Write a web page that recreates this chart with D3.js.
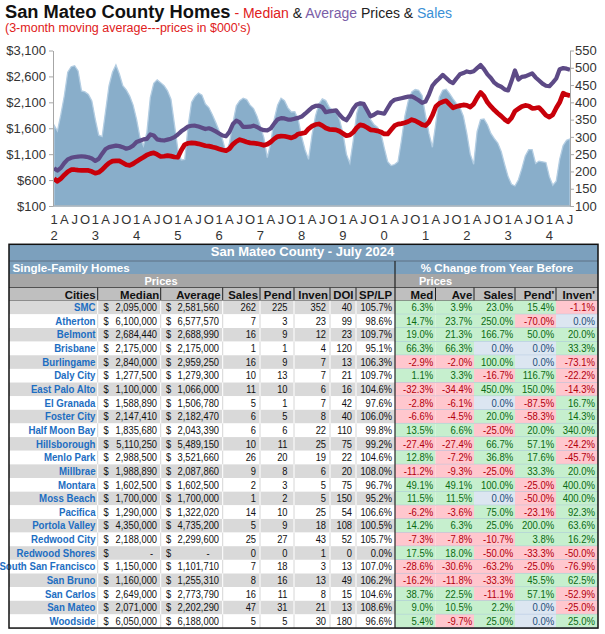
<!DOCTYPE html>
<html>
<head>
<meta charset="utf-8">
<script src="https://d3js.org/d3.v7.min.js"></script>
<style>
  body { margin: 0; background: #fff; }
  svg text { font-family: "Liberation Sans", Arial, sans-serif; }
</style>
</head>
<body>
<svg id="chart" width="605" height="634"></svg>
<script>
// ---- chart data: monthly, Jan 2012 .. Jul 2024 (3-month moving averages) ----
var salesData = [
  334, 317, 365, 419, 487, 503, 506, 491, 433, 430, 423, 404,
  351, 305, 301, 375, 448, 487, 508, 482, 448, 436, 418, 392,
  351, 298, 274, 313, 414, 455, 465, 457, 448, 433, 409, 337,
  264, 233, 235, 332, 400, 417, 427, 421, 395, 385, 365, 342,
  318, 292, 255, 282, 340, 390, 405, 412, 408, 392, 382, 360,
  330, 298, 240, 282, 350, 392, 412, 405, 384, 372, 373, 350,
  300, 262, 235, 305, 360, 395, 410, 405, 386, 377, 374, 350,
  310, 250, 224, 290, 368, 402, 398, 380, 350, 336, 328, 312,
  268, 228, 217, 220, 228, 290, 360, 405, 430, 437, 435, 420,
  362, 310, 270, 340, 415, 435, 438, 425, 410, 396, 385, 360,
  310, 250, 221, 315, 350, 352, 335, 310, 295, 282, 258, 220,
  185, 163, 158, 176, 208, 245, 263, 263, 223, 230, 228, 226,
  185, 160, 172, 235, 275, 290, 294
];
var medianData = [
  626, 578, 630, 700, 760, 800, 800, 792, 788, 786, 786, 765,
  732, 750, 800, 870, 930, 965, 972, 970, 935, 895, 885, 915,
  960, 1000, 1040, 1085, 1110, 1126, 1094, 1055, 1060, 1072, 1062, 1045,
  1040, 1175, 1285, 1310, 1318, 1312, 1299, 1280, 1262, 1255, 1240, 1222,
  1200, 1180, 1165, 1205, 1290, 1345, 1380, 1360, 1335, 1318, 1312, 1305,
  1292, 1270, 1290, 1335, 1395, 1440, 1448, 1446, 1430, 1415, 1440, 1490,
  1500, 1512, 1590, 1640, 1672, 1683, 1650, 1605, 1580, 1575, 1570, 1542,
  1500, 1455, 1470, 1523, 1610, 1665, 1650, 1615, 1570, 1562, 1550, 1530,
  1490, 1490, 1570, 1650, 1680, 1690, 1705, 1730, 1765, 1745, 1710, 1670,
  1652, 1720, 1850, 2020, 2080, 2110, 2130, 2060, 1995, 2020, 2036, 2050,
  2040, 2010, 2070, 2190, 2290, 2220, 2100, 2020, 1950, 1890, 1835, 1770,
  1725, 1800, 1930, 1975, 2020, 2040, 2030, 1985, 1990, 2000, 1930, 1850,
  1815, 1860, 1990, 2100, 2275, 2245, 2230
];
var averageData = [
  830, 785, 835, 930, 1000, 1030, 1045, 1052, 1060, 1052, 1040, 1015,
  970, 1010, 1110, 1200, 1235, 1250, 1265, 1255, 1235, 1205, 1225, 1265,
  1335, 1360, 1385, 1395, 1480, 1460, 1385, 1370, 1363, 1380, 1398, 1430,
  1480, 1540, 1585, 1635, 1648, 1650, 1632, 1610, 1585, 1600, 1575, 1540,
  1500, 1459, 1445, 1530, 1680, 1745, 1712, 1625, 1625, 1630, 1650, 1625,
  1587, 1562, 1560, 1595, 1690, 1770, 1795, 1790, 1768, 1767, 1785, 1800,
  1825, 1880, 1940, 2000, 2030, 2036, 2005, 1910, 1925, 1935, 1945, 1860,
  1790, 1754, 1850, 1975, 2060, 2080, 2070, 1950, 1830, 1860, 1905, 1895,
  1880, 1990, 2100, 2150, 2165, 2180, 2195, 2210, 2215, 2180, 2140, 2090,
  2115, 2250, 2420, 2500, 2560, 2630, 2570, 2505, 2472, 2560, 2640, 2664,
  2696, 2680, 2700, 2760, 2820, 2740, 2640, 2570, 2480, 2430, 2400, 2350,
  2330, 2510, 2715, 2540, 2590, 2600, 2630, 2660, 2580, 2520, 2460, 2420,
  2410, 2480, 2560, 2740, 2760, 2750, 2730
];
var quarterLabels = ["1", "A", "J", "O"];
var yearLabels = ["2", "3", "4", "5", "6", "7", "8", "9", "0", "1", "2", "3", "4"];
var priceTicks = [100, 600, 1100, 1600, 2100, 2600, 3100];
var salesTicks = [100, 150, 200, 250, 300, 350, 400, 450, 500, 550];

// ---- table data ----
var tableTitle = "San Mateo County - July 2024";
var cities = ["SMC", "Atherton", "Belmont", "Brisbane", "Burlingame", "Daly City", "East Palo Alto",
  "El Granada", "Foster City", "Half Moon Bay", "Hillsborough", "Menlo Park", "Millbrae", "Montara",
  "Moss Beach", "Pacifica", "Portola Valley", "Redwood City", "Redwood Shores", "South San Francisco",
  "San Bruno", "San Carlos", "San Mateo", "Woodside"];
var medianPrice = [2095000, 6100000, 2684440, 2175000, 2840000, 1277500, 1100000, 1588890, 2147410,
  1835680, 5110250, 2988500, 1988890, 1602500, 1700000, 1290000, 4350000, 2188000, 0, 1150000,
  1160000, 2649000, 2071000, 6050000];
var averagePrice = [2581560, 6577570, 2688990, 2175000, 2959250, 1279300, 1066000, 1506780, 2182470,
  2043390, 5489150, 3521660, 2087860, 1602500, 1700000, 1322020, 4735200, 2299600, 0, 1101710,
  1255310, 2773790, 2202290, 6188000];
var sales = [262, 7, 16, 1, 16, 10, 11, 5, 6, 6, 10, 26, 9, 2, 1, 14, 5, 25, 0, 7, 8, 16, 47, 5];
var pend = [225, 3, 9, 1, 9, 13, 10, 1, 5, 6, 11, 20, 8, 3, 2, 10, 9, 27, 0, 18, 16, 11, 31, 5];
var inven = [352, 23, 12, 4, 7, 7, 6, 7, 8, 22, 25, 19, 6, 5, 5, 25, 18, 43, 1, 3, 13, 8, 21, 30];
var doi = [40, 99, 23, 120, 13, 21, 16, 42, 40, 110, 75, 22, 20, 75, 150, 54, 108, 52, 0, 13, 49, 15, 13, 180];
var spLp = [105.7, 98.6, 109.7, 95.1, 106.3, 109.7, 104.6, 97.6, 106.0, 99.8, 99.2, 104.6, 108.0,
  96.7, 95.2, 106.6, 100.5, 105.7, 0.0, 107.0, 106.2, 104.6, 108.6, 96.6];
var chgMed = [6.3, 14.7, 19.0, 66.3, -2.9, 1.1, -32.3, -2.8, -6.6, 13.5, -27.4, 12.8, -11.2, 49.1,
  11.5, -6.2, 14.2, -7.3, 17.5, -28.6, -16.2, 38.7, 9.0, 5.4];
var chgAve = [3.9, 23.7, 21.3, 66.3, -2.0, 3.3, -34.4, -6.1, -4.5, 6.6, -27.4, -7.2, -9.3, 49.1,
  11.5, -3.6, 6.3, -7.8, 18.0, -30.6, -11.8, 22.5, 10.5, -9.7];
var chgSales = [23.0, 250.0, 166.7, 0.0, 100.0, -16.7, 450.0, 0.0, 20.0, -25.0, 66.7, 36.8, -25.0,
  100.0, 0.0, 75.0, 25.0, -10.7, -50.0, -63.2, -33.3, -11.1, 2.2, 25.0];
var chgPend = [15.4, -70.0, 50.0, 0.0, 0.0, 116.7, 150.0, -87.5, -58.3, 20.0, 57.1, 17.6, 33.3,
  -25.0, -50.0, -23.1, 200.0, 3.8, -33.3, -25.0, 45.5, 57.1, 0.0, 0.0];
var chgInven = [-1.1, 0.0, 20.0, 33.3, -73.1, -22.2, -14.3, 16.7, 14.3, 340.0, -24.2, -45.7, 20.0,
  400.0, 400.0, 92.3, 63.6, 16.2, -50.0, -76.9, 62.5, -52.9, -25.0, 25.0];

var svg = d3.select("#chart");

// ---------------- titles ----------------
var title = svg.append("text").attr("x", 5).attr("y", 17.5);
title.append("tspan").attr("font-weight", "bold").attr("font-size", "18.3px").attr("fill", "#111").text("San Mateo County Homes");
title.append("tspan").attr("font-size", "14px").attr("fill", "#e02020").text(" - Median");
title.append("tspan").attr("font-size", "14px").attr("fill", "#222").text(" & ");
title.append("tspan").attr("font-size", "14px").attr("fill", "#7b5ea7").text("Average");
title.append("tspan").attr("font-size", "14px").attr("fill", "#222").text(" Prices & ");
title.append("tspan").attr("font-size", "14px").attr("fill", "#3a90d6").text("Sales");
svg.append("text").attr("x", 5).attr("y", 32).attr("font-size", "12.5px").attr("fill", "#e02020")
  .text("(3-month moving average---prices in $000's)");

// ---------------- chart ----------------
var x = d3.scaleLinear().domain([0, 150]).range([54, 570]);
var yPrice = d3.scaleLinear().domain([100, 3100]).range([206, 50.5]);
var ySales = d3.scaleLinear().domain([100, 550]).range([206, 50.5]);

svg.append("path").datum(salesData)
  .attr("fill", "#89aeca")
  .attr("stroke", "#b3cde2")
  .attr("stroke-width", 1.3)
  .attr("d", d3.area()
    .x(function(d, i) { return x(i); })
    .y0(ySales(100))
    .y1(function(d) { return ySales(d); }));

svg.append("path").datum(averageData)
  .attr("fill", "none")
  .attr("stroke", "#5d4a86")
  .attr("stroke-width", 4.2)
  .attr("stroke-linejoin", "round")
  .attr("d", d3.line().x(function(d, i) { return x(i); }).y(function(d) { return yPrice(d); }));

svg.append("path").datum(medianData)
  .attr("fill", "none")
  .attr("stroke", "#c8000a")
  .attr("stroke-width", 4.7)
  .attr("stroke-linejoin", "round")
  .attr("d", d3.line().x(function(d, i) { return x(i); }).y(function(d) { return yPrice(d); }));

function styleAxis(g) {
  g.attr("font-family", null).attr("font-size", null);
  g.selectAll(".domain, .tick line").attr("stroke", "#a6a6a6");
  g.selectAll("text").attr("fill", "#333").attr("font-size", "13px");
}

svg.append("g").attr("transform", "translate(53,0)")
  .call(d3.axisLeft(yPrice).tickValues(priceTicks).tickSize(4).tickSizeOuter(0).tickPadding(3)
    .tickFormat(function(d) { return "$" + d3.format(",")(d); }))
  .call(styleAxis);

svg.append("g").attr("transform", "translate(570,0)")
  .call(d3.axisRight(ySales).tickValues(salesTicks).tickSize(4).tickSizeOuter(0).tickPadding(1))
  .call(styleAxis);

svg.append("line").attr("x1", 53).attr("x2", 570).attr("y1", 206).attr("y2", 206).attr("stroke", "#a6a6a6");

var quarters = d3.range(0, salesData.length, 3);
svg.selectAll(".qlab").data(quarters).enter().append("text")
  .attr("x", function(d) { return x(d); })
  .attr("y", 223.5)
  .attr("text-anchor", "middle")
  .attr("font-size", "13px")
  .attr("fill", "#333")
  .text(function(d) { return quarterLabels[(d / 3) % 4]; });
svg.selectAll(".ylab").data(yearLabels).enter().append("text")
  .attr("x", function(d, i) { return x(i * 12); })
  .attr("y", 240)
  .attr("text-anchor", "middle")
  .attr("font-size", "13px")
  .attr("fill", "#333")
  .text(function(d) { return d; });

// ---------------- table ----------------
var tL = 9, tR = 598, tMid = 395;
var rowA = 244.3, rowB = 261, rowC = 274, rowD = 287.5, rowTop = 300.7, rowH = 13.64;
var leftBorders = [97.7, 160.7, 222.7, 260, 294, 330, 356];
var rightBorders = [435.5, 474, 515, 556];
var steel = "#7ca0bd";
var t = svg.append("g");

// narrow text: keeps the cell widths of the reference while the glyphs stay tall
function cellLabel(g, tx, ty, anchor, size, sx, fill, txt, bold) {
  return g.append("text")
    .attr("transform", "translate(" + tx + "," + ty + ") scale(" + sx + ",1)")
    .attr("text-anchor", anchor)
    .attr("font-size", size)
    .attr("font-weight", bold ? "bold" : null)
    .attr("fill", fill)
    .text(txt);
}

t.append("rect").attr("x", tL).attr("y", rowA).attr("width", tR - tL).attr("height", rowC - rowA).attr("fill", steel);
t.append("rect").attr("x", tL).attr("y", rowC).attr("width", tR - tL).attr("height", rowD - rowC).attr("fill", "#a6a6a6");
t.append("rect").attr("x", tL).attr("y", rowD).attr("width", tR - tL).attr("height", rowTop - rowD).attr("fill", "#bfbfbf");

t.append("text").attr("x", 302.5).attr("y", 256).attr("text-anchor", "middle")
  .attr("font-weight", "bold").attr("font-size", "13px").attr("fill", "#fff").text(tableTitle);
t.append("text").attr("x", 12.5).attr("y", 272)
  .attr("font-weight", "bold").attr("font-size", "11.6px").attr("fill", "#fff").text("Single-Family Homes");
t.append("text").attr("x", 497).attr("y", 272.2)
  .attr("text-anchor", "middle")
  .attr("font-weight", "bold").attr("font-size", "11.6px").attr("fill", "#fff").text("% Change from Year Before");
[161, 435.5].forEach(function(cx) {
  t.append("text").attr("x", cx).attr("y", 285.2).attr("text-anchor", "middle")
    .attr("font-weight", "bold").attr("font-size", "11px").attr("fill", "#fff").text("Prices");
});

var leftHeads = ["Cities", "Median", "Average", "Sales", "Pend", "Inven", "DOI", "SP/LP"];
var leftHeadX = [95.7, 159.3, 220.7, 258, 291.7, 328, 353.5, 392];
var rightHeads = ["Med", "Ave", "Sales", "Pend'", "Inven'"];
var rightHeadX = [433.3, 472.3, 513.3, 554.3, 595];
leftHeads.concat(rightHeads).forEach(function(h, i) {
  var hx = i < leftHeads.length ? leftHeadX[i] : rightHeadX[i - leftHeads.length];
  t.append("text").attr("x", hx).attr("y", 298.8).attr("text-anchor", "end")
    .attr("font-weight", "bold").attr("font-size", "11.4px").attr("fill", "#111").text(h);
});
leftBorders.concat(rightBorders).forEach(function(bx) {
  t.append("line").attr("x1", bx).attr("x2", bx).attr("y1", rowD).attr("y2", rowTop)
    .attr("stroke", "#222").attr("stroke-width", 1);
});
[rowB, rowD, rowTop].forEach(function(by) {
  t.append("line").attr("x1", tL).attr("x2", tR).attr("y1", by).attr("y2", by)
    .attr("stroke", by === rowB ? "#556677" : "#333").attr("stroke-width", 0.8);
});

var money = d3.format(",");
function pct(v) { return v.toFixed(1) + "%"; }
function cellFill(v) { return v > 0 ? "#c6efce" : (v < 0 ? "#ffc7ce" : "#dce6f1"); }
function cellText(v) { return v > 0 ? "#0b6b12" : (v < 0 ? "#b3000c" : "#1f4e79"); }

var rowsG = t.selectAll(".row").data(cities).enter().append("g")
  .attr("transform", function(d, k) { return "translate(0," + (rowTop + k * rowH) + ")"; });

rowsG.append("rect").attr("x", tL).attr("y", 0).attr("width", tMid - tL).attr("height", rowH)
  .attr("fill", function(d, k) { return k % 2 === 0 ? "#d9d9d9" : "#fff"; });

rowsG.each(function(city, k) {
  var g = d3.select(this);
  var base = 10.5;
  leftBorders.forEach(function(bx) {
    g.append("line").attr("x1", bx).attr("x2", bx).attr("y1", 0).attr("y2", rowH)
      .attr("stroke", k % 2 === 0 ? "#fff" : "#d6d6d6").attr("stroke-width", 1);
  });
  cellLabel(g, 95.5, base, "end", "10.4px", 0.93, "#1d6ec2", city, true);

  var nums = [
    [103.5, "start", "$"],
    [medianPrice[k] ? 157 : 153.2, "end", medianPrice[k] ? money(medianPrice[k]) : "-"],
    [166, "start", "$"],
    [averagePrice[k] ? 219 : 209.5, "end", averagePrice[k] ? money(averagePrice[k]) : "-"],
    [256, "end", String(sales[k])],
    [287.5, "end", String(pend[k])],
    [326, "end", String(inven[k])],
    [352, "end", String(doi[k])],
    [392, "end", pct(spLp[k])]
  ];
  nums.forEach(function(n) {
    cellLabel(g, n[0], base, n[1], "10.6px", 0.88, "#111", n[2], false);
  });

  var chg = [chgMed[k], chgAve[k], chgSales[k], chgPend[k], chgInven[k]];
  var edges = [tMid, 435.5, 474, 515, 556, tR];
  chg.forEach(function(v, c) {
    g.append("rect").attr("x", edges[c]).attr("y", 0).attr("width", edges[c + 1] - edges[c]).attr("height", rowH)
      .attr("fill", cellFill(v));
    cellLabel(g, rightHeadX[c], base, "end", "10.6px", 0.9, cellText(v), pct(v), false);
  });
  g.append("line").attr("x1", tMid).attr("x2", tR).attr("y1", rowH).attr("y2", rowH)
    .attr("stroke", "#9bb9d8").attr("stroke-width", 0.8);
});

// outer and middle borders
t.append("line").attr("x1", tMid).attr("x2", tMid).attr("y1", rowB).attr("y2", rowTop + cities.length * rowH)
  .attr("stroke", "#222").attr("stroke-width", 1.2);
t.append("rect").attr("x", tL).attr("y", rowA).attr("width", tR - tL).attr("height", rowTop + cities.length * rowH - rowA)
  .attr("fill", "none").attr("stroke", "#111").attr("stroke-width", 1.5);
</script>
</body>
</html>
